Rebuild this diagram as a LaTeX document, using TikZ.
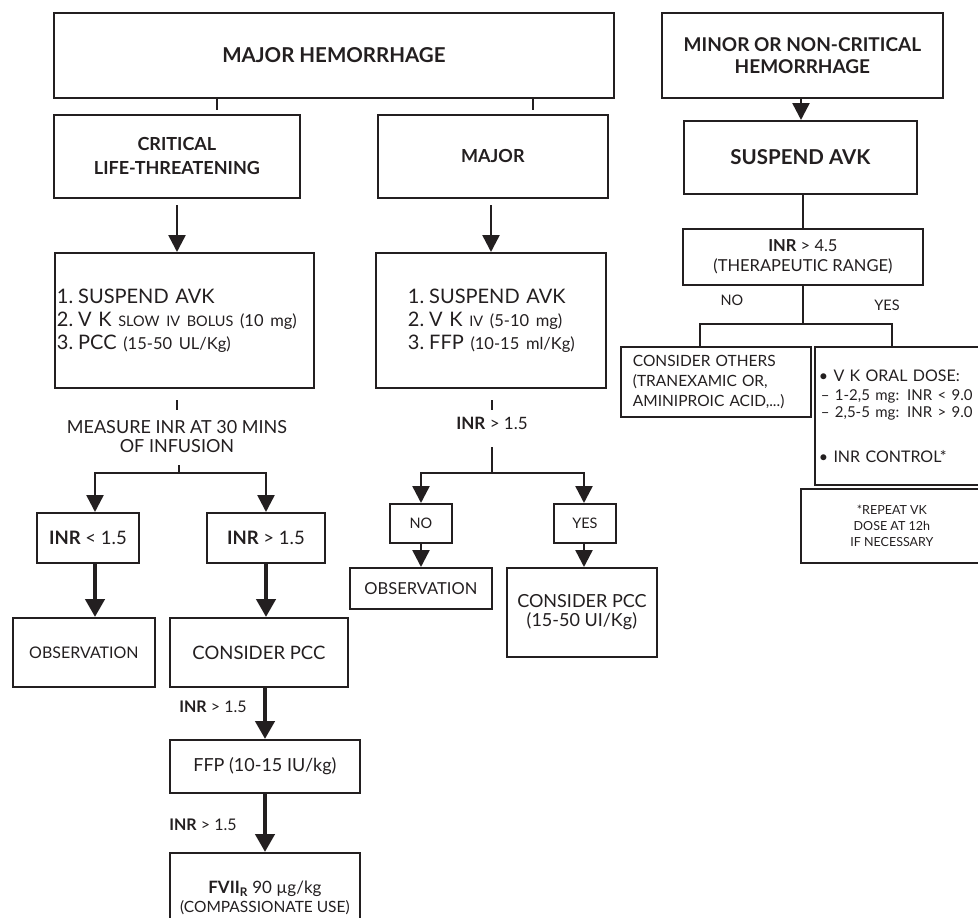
\documentclass[tikz,border=0pt]{standalone}
\usepackage{fontspec}
\setmainfont{Lato}
\usetikzlibrary{arrows.meta}
\newcommand\fsz[2]{\fontsize{#1}{#2}\selectfont}
\newcommand\Lm[1]{\mbox{#1}}
\newcommand\nsp{\hspace{5pt}}
\definecolor{ink}{HTML}{231F20}
\begin{document}
\begin{tikzpicture}[x=1pt,y=-1pt, color=ink, text=ink,
  box/.style={draw=ink, line width=1.8pt, inner sep=0pt, anchor=north west, align=center},
  conn/.style={line width=2.5pt, draw=ink},
  arr/.style={conn, -{Triangle[width=17pt,length=17pt]}},
  tarr/.style={line width=4.4pt, draw=ink, -{Triangle[width=19pt,length=18pt]}},
  hbold/.style={font=\fsz{18}{24}\bfseries},
]
\useasboundingbox (0,0) rectangle (978,918);
\fill[white] (0,0) rectangle (978,918);

% ---------- top row ----------
\node[box, minimum width=560pt, minimum height=85pt, font=\fsz{20.5}{24}\bfseries] (mh) at (53,12) {MAJOR HEMORRHAGE};
\node[box, hbold, minimum width=246pt, minimum height=83pt] (crit) at (53,114) {CRITICAL\\LIFE-THREATENING};
\node[box, hbold, minimum width=230pt, minimum height=83pt] (maj) at (377,114) {MAJOR};
\node[box, font=\fsz{19}{22}\bfseries, minimum width=281pt, minimum height=85pt] (minor) at (661,12) {MINOR OR NON-CRITICAL\\HEMORRHAGE};
\node[box, font=\fsz{20.5}{22}\bfseries, minimum width=233pt, minimum height=73pt] (susp) at (683,120) {SUSPEND AVK};

% ---------- treatment boxes ----------
\node[box, align=left, text width=255pt, inner xsep=2pt, minimum height=135pt, font=\fsz{20}{23}] (trtL) at (54,252)
  {\Lm{1.\nsp SUSPEND AVK}\\\Lm{2.\nsp V K {\fsz{14.5}{23}SLOW IV BOLUS} {\fsz{16.5}{23}(10 mg)}}\\\Lm{3.\nsp PCC {\fsz{16.5}{23}(15-50 UL/Kg)}}};
\node[box, align=left, text width=166pt, inner xsep=32pt, minimum height=135pt, font=\fsz{20}{23}] (trtM) at (375,252)
  {\Lm{1.\nsp SUSPEND AVK}\\\Lm{2.\nsp V K {\fsz{14.5}{23}IV} {\fsz{16.5}{23}(5-10 mg)}}\\\Lm{3.\nsp FFP {\fsz{16.5}{23}(10-15 ml/Kg)}}};

% ---------- right column ----------
\node[box, font=\fsz{16.5}{20}, minimum width=240pt, minimum height=56pt] (inr45) at (682,228) {\textbf{INR} > 4.5\\(THERAPEUTIC RANGE)};
\node[font=\fsz{14.5}{17}] (noR) at (732,300) {NO};
\node[font=\fsz{14.5}{17}] (yesR) at (887,305) {YES};
\node[box, align=left, text width=166pt, inner xsep=12pt, minimum height=70pt, font=\fsz{15.5}{20}] (others) at (620,346)
  {\Lm{CONSIDER OTHERS}\\\Lm{(TRANEXAMIC OR,}\\\Lm{AMINIPROIC ACID,...)}};
\node[box, align=left, text width=160pt, inner xsep=4pt, minimum height=138pt, font=\fsz{16}{17}] (vk) at (814,346)
  {\Lm{• V K ORAL DOSE:}\\[2pt]\Lm{\fsz{15}{17}\hspace*{2pt}– 1-2,5 mg: INR < 9.0}\\\Lm{\fsz{15}{17}\hspace*{2pt}– 2,5-5 mg: INR > 9.0}\\[28pt]\Lm{• INR CONTROL*}};
\node[box, font=\fsz{12.5}{16}, minimum width=182pt, minimum height=74pt] (note) at (800,488) {*REPEAT VK\\DOSE AT 12h\\IF NECESSARY};

% ---------- left column ----------
\node[font=\fsz{18}{19}, align=center] (meas) at (177,437) {MEASURE INR AT 30 MINS\\OF INFUSION};
\node[box, font=\fsz{18.5}{20}, minimum width=102pt, minimum height=50pt] (inrlo) at (36,512) {\textbf{INR} < 1.5};
\node[box, font=\fsz{18.5}{20}, minimum width=118pt, minimum height=50pt] (inrhi) at (206,512) {\textbf{INR} > 1.5};
\node[box, font=\fsz{16}{20}, minimum width=142pt, minimum height=69pt] (obsL) at (12,617) {OBSERVATION};
\node[box, font=\fsz{18.5}{20}, minimum width=178pt, minimum height=69pt] (pccL) at (169,617) {CONSIDER PCC};
\node[box, font=\fsz{18}{20}, minimum width=190pt, minimum height=53pt] (ffp) at (169,739) {FFP (10-15 IU/kg)};
\node[box, font=\fsz{17}{19}, minimum width=190pt, minimum height=90pt] (fvii) at (169,852)
  {\textbf{FVII}\textsubscript{\textbf{R}} 90 µg/kg\\{\fsz{15.5}{19}(COMPASSIONATE USE)}};
\node[font=\fsz{16}{18}] (lab1) at (213,707) {\textbf{INR} > 1.5};
\node[font=\fsz{16}{18}] (lab2) at (203,825) {\textbf{INR} > 1.5};

% ---------- middle column ----------
\node[font=\fsz{17}{19}] (inrM) at (492,423) {\textbf{INR} > 1.5};
\node[box, font=\fsz{14.5}{17}, minimum width=62pt, minimum height=39pt] (noM) at (389,503) {NO};
\node[box, font=\fsz{14.5}{17}, minimum width=62pt, minimum height=39pt] (yesM) at (553,503) {YES};
\node[box, font=\fsz{16.5}{20}, minimum width=142pt, minimum height=41pt] (obsM) at (349,567) {OBSERVATION};
\node[box, font=\fsz{18}{19}, minimum width=150pt, minimum height=89pt] (pccM) at (506,567) {CONSIDER PCC\\(15-50 UI/Kg)};

% ---------- connectors ----------
\coordinate (tk1) at (217,110);
\coordinate (tk2) at (533,110);
\draw[conn] (mh.south -| tk1) -- (tk1);
\draw[conn] (mh.south -| tk2) -- (tk2);

\coordinate (a1) at (177,205);
\coordinate (a2) at (491,205);
\draw[arr] (a1) -- (trtL.north -| a1);
\draw[arr] (a2) -- (trtM.north -| a2);

\coordinate (aR) at (801,0);
\draw[arr] (minor.south -| aR) -- (susp.north -| aR);
\coordinate (fR) at (803,324);
\coordinate (fRl) at (700,324);
\coordinate (fRr) at (892,324);
\draw[conn] (susp.south -| fR) -- (inr45.north -| fR);
\draw[conn] (inr45.south -| fR) -- (fR);
\draw[conn] (others.north -| fRl) |- (fRr) -- (vk.north -| fRr);

% left column
\coordinate (tkL) at (177,400);
\draw[conn] (tkL) -- ++(0,10);
\coordinate (fLs) at (179,465);
\coordinate (fL) at (179,473);
\coordinate (fLl) at (95,473);
\coordinate (fLr) at (266,473);
\draw[conn] (fLs) -- (fL);
\draw[arr] (fL) -| (inrlo.north -| fLl);
\draw[arr] (fL) -| (inrhi.north -| fLr);
\draw[tarr] (inrlo.south -| fLl) -- (obsL.north -| fLl);
\draw[tarr] (inrhi.south -| fLr) -- (pccL.north -| fLr);
\coordinate (cx) at (265,0);
\draw[tarr] (pccL.south -| cx) -- (ffp.north -| cx);
\draw[tarr] (ffp.south -| cx) -- (fvii.north -| cx);

% middle column
\coordinate (tkM) at (492,400);
\draw[conn] (tkM) -- ++(0,10);
\coordinate (fMs) at (492,447);
\coordinate (fM) at (492,473);
\coordinate (fMl) at (421,473);
\coordinate (fMr) at (584,473);
\draw[conn] (fMs) -- (fM);
\draw[arr] (fM) -| (noM.north -| fMl);
\draw[arr] (fM) -| (yesM.north -| fMr);
\draw[arr] (noM.south -| fMl) -- (obsM.north -| fMl);
\draw[arr] (yesM.south -| fMr) -- (pccM.north -| fMr);
\end{tikzpicture}
\end{document}
